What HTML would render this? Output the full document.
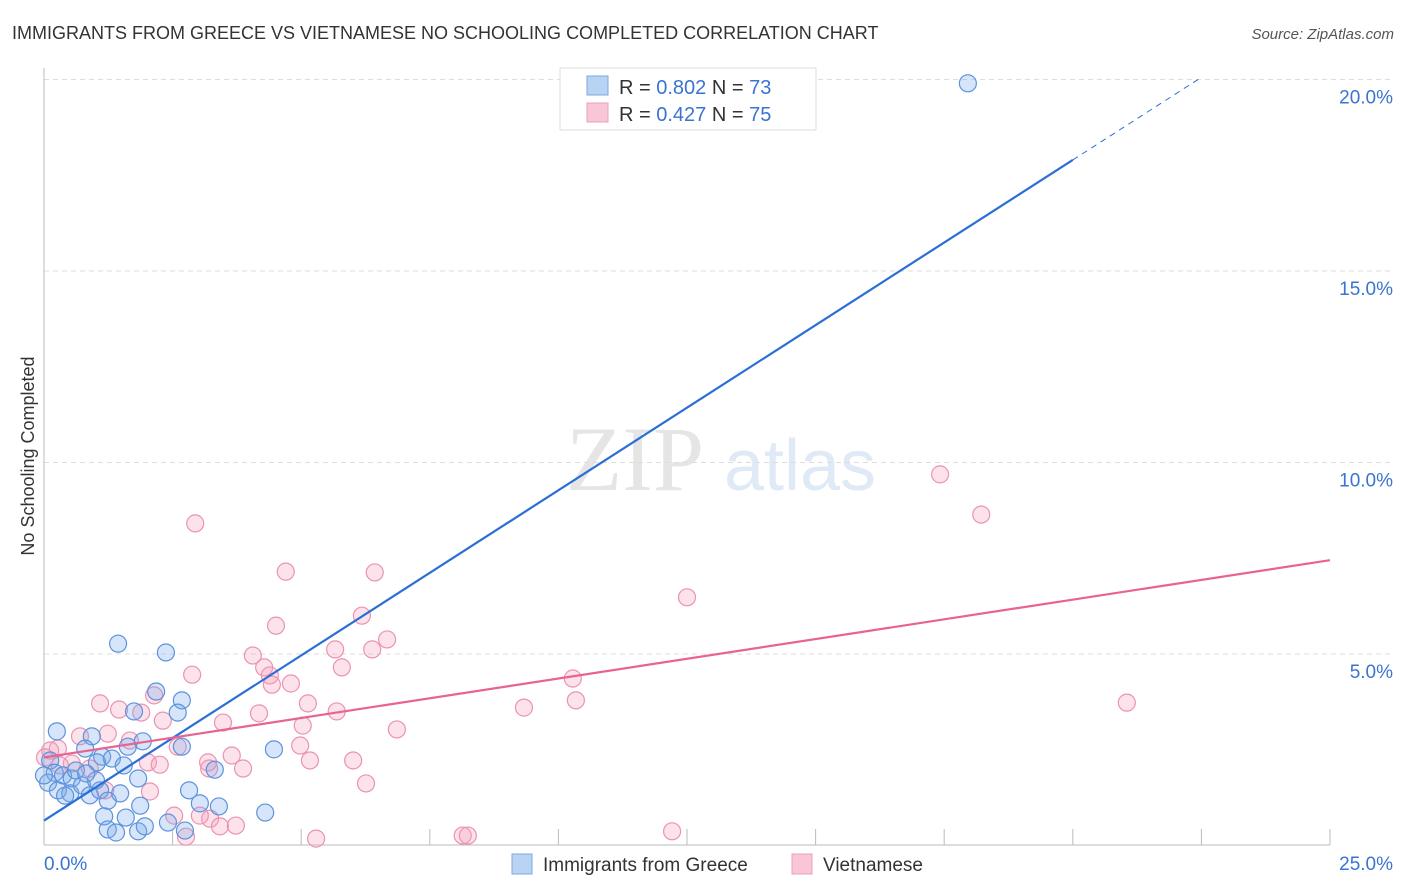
<!DOCTYPE html>
<html><head><meta charset="utf-8"><style>
body{margin:0;background:#fff;font-family:"Liberation Sans",sans-serif;}
svg{display:block}
</style></head><body>
<svg id="chart" width="1406" height="892" xmlns="http://www.w3.org/2000/svg">
<text x="12" y="39" font-size="18" fill="#333">IMMIGRANTS FROM GREECE VS VIETNAMESE NO SCHOOLING COMPLETED CORRELATION CHART</text>
<text x="1394" y="39" font-size="15" fill="#555" font-style="italic" text-anchor="end">Source: ZipAtlas.com</text>
<text transform="translate(34,456) rotate(-90)" font-size="18" fill="#333" text-anchor="middle">No Schooling Completed</text>
<g opacity="0.25">
<text x="635" y="490" font-size="92" font-family="Liberation Serif,serif" fill="#999" text-anchor="middle">ZIP</text>
<text x="800" y="490" font-size="72" fill="#88aee0" text-anchor="middle">atlas</text>
</g>
<g id="grid"></g><g id="axes"></g><g id="pts"></g><g id="lines"></g>
<g>
<rect x="560" y="68" width="256" height="62" fill="#fff" stroke="#ddd"/>
<rect x="587" y="76" width="21" height="19" fill="#b9d3f5" stroke="#7ba7e0"/>
<rect x="587" y="103" width="21" height="19" fill="#f9c6d6" stroke="#eaa0b9"/>
<text x="619" y="94" font-size="20" fill="#333">R = <tspan fill="#3a74d0">0.802</tspan>   N = <tspan fill="#3a74d0">73</tspan></text>
<text x="619" y="121" font-size="20" fill="#333">R = <tspan fill="#3a74d0">0.427</tspan>   N = <tspan fill="#3a74d0">75</tspan></text>
</g>
<g>
<rect x="512" y="854" width="20" height="20" fill="#b9d3f5" stroke="#7ba7e0"/>
<text x="543" y="871" font-size="19" fill="#333">Immigrants from Greece</text>
<rect x="792" y="854" width="20" height="20" fill="#f9c6d6" stroke="#eaa0b9"/>
<text x="823" y="871" font-size="19" fill="#333">Vietnamese</text>
</g>
</svg>
<script>
const yTicks=[5,10,15,20];
const yTickLabels=["5.0%","10.0%","15.0%","20.0%"];
const xTicks=[2.5,5,7.5,10,12.5,15,17.5,20,22.5,25];
const greeceX=[17.96,1.44,2.37,2.18,2.68,2.6,1.75,0.25,0.93,1.92,2.68,4.47,1.63,0.8,1.13,1.32,1.03,1.55,1.83,3.32,0.12,0.21,0.37,0.54,0.08,0.27,0.51,0.74,0.89,1.09,1.24,1.01,2.82,1.87,3.03,3.4,4.3,1.17,1.59,1.24,1.4,1.83,1.96,2.41,2.74,0.41,0.62,0.82,0,1.48];
const greeceY=[19.9,5.27,5.04,4.02,3.79,3.47,3.5,2.98,2.85,2.72,2.58,2.51,2.58,2.53,2.32,2.27,2.17,2.09,1.75,1.98,2.22,1.9,1.83,1.75,1.64,1.44,1.36,1.57,1.31,1.44,1.17,1.7,1.44,1.04,1.1,1.02,0.86,0.76,0.73,0.42,0.34,0.37,0.5,0.6,0.39,1.3,1.96,1.88,1.83,1.36];
const vietX=[17.42,18.22,12.5,21.05,2.94,4.7,6.43,6.18,4.51,6.67,5.66,6.38,4.06,5.79,4.28,4.39,2.88,4.8,4.43,10.28,10.34,9.33,2.14,5.13,1.09,1.46,1.89,4.18,5.69,2.31,3.48,5.03,6.86,0.7,1.24,1.67,2.6,4.98,0.27,3.65,3.19,5.17,6.01,2.02,2.25,0.54,3.87,3.21,0.89,0.12,6.26,2.06,1.19,2.53,3.23,3.42,3.73,2.76,5.29,8.14,8.24,12.21,3.03,0.31,0.02];
const vietY=[9.69,8.64,6.48,3.73,8.41,7.15,7.13,6.0,5.74,5.38,5.12,5.12,4.96,4.65,4.65,4.44,4.46,4.23,4.2,4.36,3.79,3.6,3.92,3.71,3.71,3.55,3.47,3.45,3.5,3.26,3.21,3.13,3.03,2.85,2.92,2.74,2.58,2.61,2.53,2.35,2.17,2.22,2.22,2.17,2.11,2.14,2.01,2.01,2.01,2.48,1.62,1.41,1.44,0.78,0.7,0.5,0.52,0.23,0.18,0.26,0.26,0.37,0.78,2.09,2.3];
const greeceFit=[0.65,17.9];
const vietFit=[2.3,7.45];
const fitX=[0,20];
const vietFitX=[0,25];
const NS="http://www.w3.org/2000/svg";
const X=v=>44+v*51.44, Y=v=>845.5-v*38.3;
function mk(tag,attrs,parent){const e=document.createElementNS(NS,tag);for(const k in attrs)e.setAttribute(k,attrs[k]);document.getElementById(parent).appendChild(e);return e;}
yTicks.forEach((t,i)=>{
 const g=mk('line',{x1:44,x2:1392,y1:Y(t),y2:Y(t),stroke:'#ddd','stroke-dasharray':'5,4'},'grid');
 
 
 const l=mk('text',{x:1393,y:Y(t)+24,'font-size':19,fill:'#3a74d0','text-anchor':'end'},'axes');
 l.textContent=yTickLabels[i];
 
 
});
const ya=mk('line',{x1:44,x2:44,y1:68,y2:845,stroke:'#bbb'},'axes');


const xa=mk('line',{x1:44,x2:1330,y1:845,y2:845,stroke:'#bbb'},'axes');


xTicks.forEach(t=>{
 const k=mk('line',{x1:X(t),x2:X(t),y1:829,y2:845,stroke:'#bbb'},'axes');
 
 
});
const x0=mk('text',{x:44,y:870,'font-size':19,fill:'#3a74d0'},'axes');x0.textContent='0.0%';


const x1=mk('text',{x:1393,y:870,'font-size':19,fill:'#3a74d0','text-anchor':'end'},'axes');x1.textContent='25.0%';


vietX.forEach((v,i)=>{
 const c=mk('circle',{cx:X(v),cy:Y(vietY[i]),r:8.5,fill:'rgba(244,160,190,0.3)',stroke:'#eb93b2','stroke-width':1.2},'pts');
 
 
});
greeceX.forEach((v,i)=>{
 const c=mk('circle',{cx:X(v),cy:Y(greeceY[i]),r:8.5,fill:'rgba(120,170,235,0.3)',stroke:'#5d93dc','stroke-width':1.2},'pts');
 
 
});
const slope=(greeceFit[1]-greeceFit[0])/(fitX[1]-fitX[0]);
const bl=mk('line',{x1:X(fitX[0]),y1:Y(greeceFit[0]),x2:X(fitX[1]),y2:Y(greeceFit[1]),stroke:'#2a6fd6','stroke-width':2.2},'lines');


const ext=22.5;
const bd=mk('line',{x1:X(fitX[1]),y1:Y(greeceFit[1]),x2:X(ext),y2:Y(greeceFit[0]+slope*ext),stroke:'#2a6fd6','stroke-width':1,'stroke-dasharray':'6,5'},'lines');


const pl=mk('line',{x1:X(vietFitX[0]),y1:Y(vietFit[0]),x2:X(vietFitX[1]),y2:Y(vietFit[1]),stroke:'#e8638f','stroke-width':2.2},'lines');


</script>
</body></html>
